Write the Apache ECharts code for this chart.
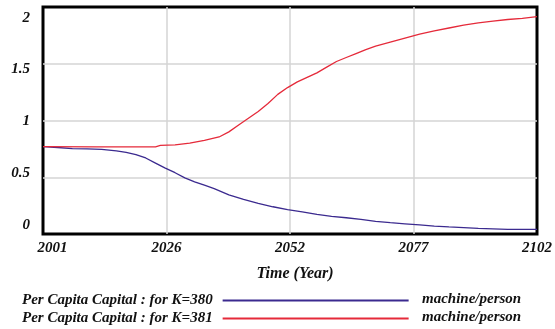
<!DOCTYPE html>
<html>
<head>
<meta charset="utf-8">
<script src="https://cdn.jsdelivr.net/npm/echarts@6/dist/echarts.min.js"></script>
<style>
  html, body { margin: 0; padding: 0; background: #fff; }
  #chart { width: 555px; height: 329px; }
</style>
</head>
<body>
<div id="chart"></div>
<script>
// Simulation start year and horizon
const startYear = 2001;
const endYear = 2102;

// Per Capita Capital, run K=380
const yearsK380 = [2001, 2004, 2007, 2010, 2013, 2016, 2018, 2020, 2022, 2024, 2026, 2028, 2030, 2032, 2034, 2036,
  2039, 2042, 2045, 2048, 2051, 2054, 2057, 2060, 2063, 2066, 2069, 2072, 2075, 2078, 2081, 2084, 2087, 2090,
  2093, 2096, 2099, 2102];
const valuesK380 = [0.77, 0.762, 0.752, 0.75, 0.745, 0.733, 0.72, 0.70, 0.67, 0.625, 0.58, 0.54, 0.495, 0.46, 0.43, 0.40,
  0.345, 0.305, 0.27, 0.24, 0.215, 0.195, 0.172, 0.155, 0.143, 0.128, 0.112, 0.10, 0.09, 0.08, 0.07, 0.063, 0.057, 0.05,
  0.046, 0.041, 0.04, 0.04];

// Per Capita Capital, run K=381
const yearsK381 = [2001, 2012, 2024, 2025, 2028, 2031, 2034, 2037, 2039, 2041, 2043, 2045, 2047, 2049, 2051, 2053,
  2055, 2057, 2059, 2061, 2063, 2065, 2067, 2069, 2072, 2075, 2078, 2081, 2084, 2087, 2090, 2093, 2096, 2099, 2102];
const valuesK381 = [0.77, 0.767, 0.768, 0.78, 0.785, 0.80, 0.825, 0.855, 0.90, 0.96, 1.02, 1.08, 1.15, 1.23, 1.29, 1.34,
  1.38, 1.42, 1.47, 1.52, 1.555, 1.59, 1.625, 1.655, 1.69, 1.725, 1.76, 1.79, 1.815, 1.84, 1.86, 1.875, 1.89, 1.90, 1.915];

const seriesNames = ['Per Capita Capital : for K=380', 'Per Capita Capital : for K=381'];
const seriesColors = ['#3b2a8f', '#e52a3a'];
const unitLabel = 'machine/person';
const xAxisTitle = 'Time (Year)';
const yTickValues = [0, 0.5, 1, 1.5, 2];

const font = 'Liberation Serif';
const textBase = { fontFamily: font, fontWeight: 'bold', fontStyle: 'italic', fontSize: 15, color: '#111' };

// x is plotted as years elapsed since the start so ticks fall on quarters of the horizon
const toPairs = (years, vals) => years.map((y, i) => [y - startYear, vals[i]]);
const span = endYear - startYear;

// y tick labels are nudged to spread evenly inside the frame
const yShift = { 0: 'y0', 0.5: 'y05', 1: 'y1', 1.5: 'y15', 2: 'y2' };
const padFor = s => s >= 0 ? [2 * s, 0, 0, 0] : [0, 0, -2 * s, 0];
const yRich = {
  y0: Object.assign({ padding: padFor(-9) }, textBase),
  y05: Object.assign({ padding: padFor(-4) }, textBase),
  y1: Object.assign({ padding: padFor(1) }, textBase),
  y15: Object.assign({ padding: padFor(5) }, textBase),
  y2: Object.assign({ padding: padFor(11) }, textBase)
};

// one legend row per run: name, line sample, then the unit
const legendRowTops = [293, 311];
const legends = seriesNames.map((name, i) => ({
  orient: 'horizontal', left: 22, top: legendRowTops[i], padding: 0, align: 'right',
  icon: 'rect', itemWidth: 186, itemHeight: 2,
  textStyle: Object.assign({ padding: [0, 5, 0, 0] }, textBase),
  selectedMode: false,
  data: [name]
}));
const unitTexts = legendRowTops.map(t => ({
  type: 'text', left: 422, top: t - 1,
  style: { text: unitLabel, fill: '#111', font: 'italic bold 15px "Liberation Serif"' }
}));

const gridLine = { show: true, showMinLine: false, showMaxLine: false, lineStyle: { color: '#d4d4d4', width: 1.5 } };

const chart = echarts.init(document.getElementById('chart'), null, { renderer: 'canvas' });
chart.setOption({
  animation: false,
  backgroundColor: '#fff',
  grid: {
    left: 43, top: 7, right: 16, bottom: 95,
    show: true, borderColor: '#000', borderWidth: 3, backgroundColor: 'transparent'
  },
  xAxis: {
    type: 'value', min: 0, max: span, interval: span / 4,
    name: xAxisTitle, nameLocation: 'middle', nameGap: 32,
    nameTextStyle: Object.assign({}, textBase, { fontSize: 16, padding: [0, 0, 0, 10] }),
    axisLine: { show: false }, axisTick: { show: false },
    splitLine: gridLine,
    axisLabel: {
      margin: 7,
      formatter: (v) => {
        const yr = String(Math.round(startYear + v));
        return v === 0 ? '{first|' + yr + '}' : '{n|' + yr + '}';
      },
      rich: {
        first: Object.assign({ padding: [0, 0, 0, 19] }, textBase),
        n: Object.assign({}, textBase)
      }
    }
  },
  yAxis: {
    type: 'value', min: yTickValues[0], max: yTickValues[yTickValues.length - 1], interval: 0.5,
    axisLine: { show: false }, axisTick: { show: false },
    splitLine: gridLine,
    axisLabel: {
      margin: 13,
      formatter: (v) => '{' + yShift[v] + '|' + v + '}',
      rich: yRich
    }
  },
  legend: legends,
  graphic: unitTexts,
  series: [
    {
      name: seriesNames[0], type: 'line', showSymbol: false, symbol: 'none',
      color: seriesColors[0], lineStyle: { width: 1.3, color: seriesColors[0] },
      data: toPairs(yearsK380, valuesK380)
    },
    {
      name: seriesNames[1], type: 'line', showSymbol: false, symbol: 'none',
      color: seriesColors[1], lineStyle: { width: 1.3, color: seriesColors[1] },
      data: toPairs(yearsK381, valuesK381)
    }
  ]
});
</script>
</body>
</html>
